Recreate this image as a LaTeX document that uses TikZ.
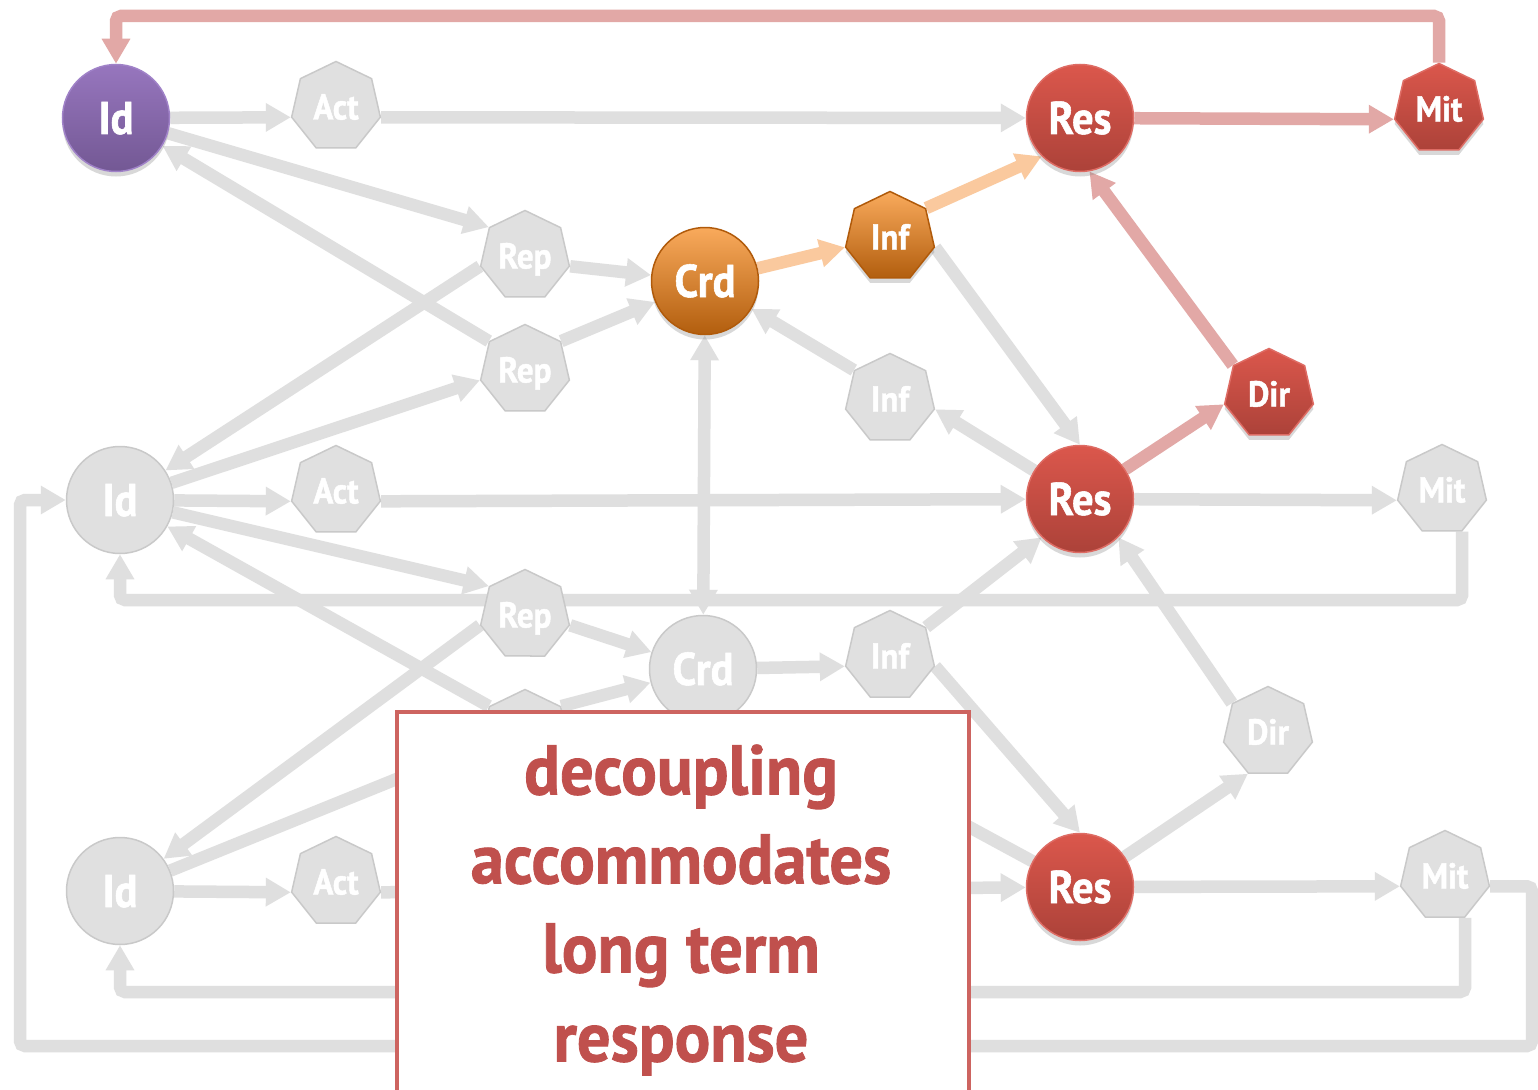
\documentclass[tikz,border=0pt]{standalone}
\usepackage{fontspec}
\newfontfamily\labelfont[FakeStretch=0.92,FakeBold=1.2]{PT Sans}
\newfontfamily\notefont[FakeStretch=0.95,FakeBold=1.2]{PT Sans}
\usetikzlibrary{arrows.meta,shapes.geometric,shadows}
\pgfdeclarelayer{back}
\pgfdeclarelayer{wires}
\pgfsetlayers{back,wires,main}

\definecolor{grfill}{RGB}{224,224,224}
\definecolor{grline}{RGB}{201,201,201}
\definecolor{grwire}{RGB}{223,223,223}
\definecolor{vltop}{RGB}{151,118,190}
\definecolor{vlbot}{RGB}{115,88,148}
\definecolor{vlline}{RGB}{160,130,200}
\definecolor{amtop}{RGB}{249,170,92}
\definecolor{ambot}{RGB}{178,94,14}
\definecolor{amline}{RGB}{176,90,10}
\definecolor{rdtop}{RGB}{219,87,76}
\definecolor{rdbot}{RGB}{172,66,57}
\definecolor{rdline}{RGB}{222,108,100}
\definecolor{rosewire}{RGB}{226,168,166}
\definecolor{peachwire}{RGB}{250,201,158}
\definecolor{boxline}{RGB}{205,100,96}
\definecolor{boxtext}{RGB}{192,80,77}

\tikzset{
  ring/.style={circle,minimum size=107pt,inner sep=0pt,line width=1.5pt,text=white,
    text height=32pt,text depth=0pt,font={\labelfont\bfseries\fontsize{46}{46}\selectfont}},
  hept/.style={regular polygon,regular polygon sides=7,minimum size=91pt,inner sep=0pt,line width=1.5pt,text=white,
    text height=25pt,text depth=0pt,font={\labelfont\bfseries\fontsize{36}{36}\selectfont}},
  greynode/.style={fill=grfill,draw=grline},
  violetnode/.style={top color=vltop,bottom color=vlbot,draw=vlline,
    drop shadow={opacity=0.3,shadow xshift=0pt,shadow yshift=-5pt}},
  ambernode/.style={top color=amtop,bottom color=ambot,draw=amline,
    drop shadow={opacity=0.3,shadow xshift=0pt,shadow yshift=-5pt}},
  rednode/.style={top color=rdtop,bottom color=rdbot,draw=rdline,
    drop shadow={opacity=0.3,shadow xshift=0pt,shadow yshift=-5pt}},
  wire/.style={draw=grwire,line width=12.5pt,>={Triangle[length=25pt,width=27pt]},->},
  rosepath/.style={wire,draw=rosewire},
  peachpath/.style={wire,draw=peachwire},
  feedback/.style={rounded corners=5pt}
}

\begin{document}
\begin{tikzpicture}[x=1pt,y=-1pt]
\useasboundingbox (0,0) rectangle (1538,1089);
\begin{pgfonlayer}{back}
\fill[white] (0,0) rectangle (1538,1089);
\end{pgfonlayer}

% Layer 1
\node[ring,violetnode] (Id_a) at (116,118) {Id};
\node[hept,greynode] (Act_a) at (336,107) {Act};
\node[hept,greynode] (Rep_a) at (525,256) {Rep};
\node[hept,greynode] (Rep_b) at (525,370) {Rep};
\node[ring,ambernode] (Crd_a) at (705,281) {Crd};
\node[hept,ambernode] (Inf_a) at (890,237) {Inf};
\node[hept,greynode] (Inf_b) at (890,399) {Inf};
\node[ring,rednode] (Res_a) at (1080,118) {Res};
\node[hept,rednode] (Mit_a) at (1439,109) {Mit};
\node[hept,rednode] (Dir_a) at (1269,394) {Dir};

% Layer 2
\node[ring,greynode] (Id_b) at (120,500) {Id};
\node[hept,greynode] (Act_b) at (336,491) {Act};
\node[hept,greynode] (Rep_c) at (525,615) {Rep};
\node[hept,greynode] (Rep_d) at (525,735) {};
\node[ring,greynode] (Crd_b) at (703,669) {Crd};
\node[hept,greynode] (Inf_c) at (890,656) {Inf};
\node[ring,rednode] (Res_b) at (1080,499) {Res};
\node[hept,greynode] (Mit_b) at (1442,490) {Mit};
\node[hept,greynode] (Dir_b) at (1268,732) {Dir};

% Layer 3
\node[ring,greynode] (Id_c) at (120,891) {Id};
\node[hept,greynode] (Act_c) at (336,882) {Act};
\coordinate (Inf_d) at (890,784);
\node[ring,rednode] (Res_c) at (1080,887) {Res};
\node[hept,greynode] (Mit_c) at (1445,876) {Mit};

\begin{pgfonlayer}{wires}
%Grey connectors
\draw[wire] (Id_a) -- (Act_a.corner 3);
\draw[wire] (Act_a.corner 6) -- (Res_a);
\draw[wire] (Id_a) -- (Rep_a.corner 2);
\draw[wire] (Rep_b.corner 2) -- (Id_a);
\draw[wire] (Rep_a.corner 3) -- (Id_b);
\draw[wire] (Id_b) -- (Rep_b.corner 3);
\draw[wire] (Rep_a.corner 6) -- (Crd_a);
\draw[wire] (Rep_b.corner 7) -- (Crd_a);
\draw[wire] (Inf_b.corner 2) -- (Crd_a);
\draw[wire] (Res_b) -- (Inf_b.corner 6);
\draw[wire] (Inf_a.corner 6) -- (Res_b.north);
\draw[wire,<->] (Crd_a) -- (Crd_b);
\draw[wire] (Id_b) -- (Act_b.corner 3);
\draw[wire] (Act_b.corner 6) -- (Res_b);
\draw[wire] (Id_b) -- (Rep_c.corner 2);
\draw[wire] (Rep_d.corner 2) -- (Id_b);
\draw[wire] (Rep_c.corner 6) -- (Crd_b);
\draw[wire] (Rep_d.corner 7) -- (Crd_b);
\draw[wire] (Crd_b) -- (Inf_c.corner 3);
\draw[wire] (Inf_c.corner 7) -- (Res_b.225);
\draw[wire] (Inf_c.corner 6) -- (Res_c.north);
\draw[wire] (Dir_b.corner 2) -- (Res_b.-45);
\draw[wire] (Res_b) -- (Mit_b.corner 3);
\draw[wire] (Rep_c.corner 3) -- (Id_c);
\draw[wire] (Id_c) -- (Rep_d.corner 3);
\draw[wire] (Id_c) -- (Act_c.corner 3);
\draw[wire] (Act_c.corner 6) -- (Res_c);
\draw[wire] (Res_c) -- (Inf_d);
\draw[wire] (Res_c) -- (Dir_b.corner 4);
\draw[wire] (Res_c) -- (Mit_c.corner 3);
%Feedback loops
\draw[wire,feedback] (Mit_b.corner 5) |- (Id_b.south |- 0,600) -- (Id_b.south);
\draw[wire,feedback] (Mit_c.corner 5) |- (Id_c.south |- 0,992) -- (Id_c.south);
\draw[wire,feedback] (Mit_c.corner 6) -| (1532,1046) -| (20,500) -- (Id_b.west);
%Highlighted connectors
\draw[peachpath] (Crd_a) -- (Inf_a.corner 3);
\draw[peachpath] (Inf_a.corner 7) -- (Res_a.225);
\draw[rosepath] (Res_a) -- (Mit_a.corner 3);
\draw[rosepath] (Dir_a.corner 2) -- (Res_a.-80);
\draw[rosepath] (Res_b) -- (Dir_a.corner 3);
\draw[rosepath,feedback] (Mit_a.corner 1) |- (Id_a.north |- 0,16) -- (Id_a.north);
\end{pgfonlayer}

% Text Node
\node[draw=boxline,line width=4pt,fill=white,minimum width=572pt,minimum height=390pt,
  anchor=north west,inner sep=0pt] (note) at (395,710) {};
\node[text=boxtext,align=center,font={\notefont\bfseries\fontsize{70}{89}\selectfont}]
  (notetext) at (681,910) {decoupling\\accommodates\\long term\\response};

\end{tikzpicture}
\end{document}
